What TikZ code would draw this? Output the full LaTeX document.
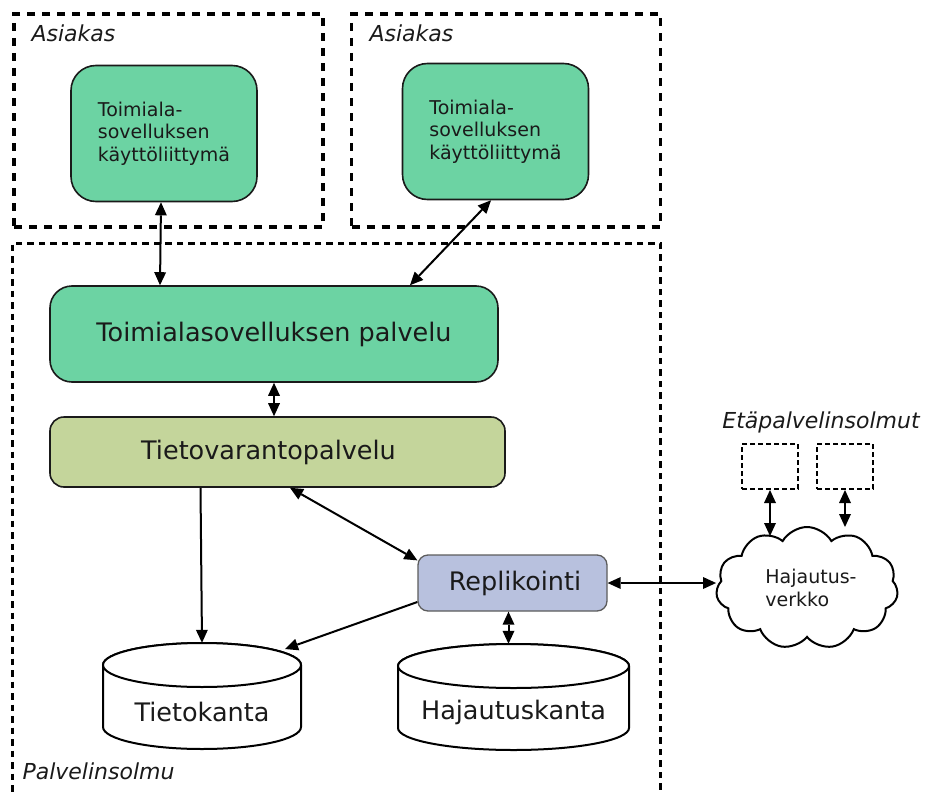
\documentclass[tikz,border=0pt]{standalone}
\usepackage{fontspec}
\setmainfont{DejaVu Sans}
\usetikzlibrary{arrows.meta,shapes.symbols,calc}

\definecolor{uigreen}{HTML}{6CD3A3}
\definecolor{tvgreen}{HTML}{C4D59B}
\definecolor{replav}{HTML}{B8C1DE}
\definecolor{ink}{HTML}{1A1A1A}
\definecolor{repborder}{HTML}{5C5C5C}

\begin{document}
\begin{tikzpicture}[x=1pt,y=-1pt,
  bigfont/.style={font=\fontsize{25.5}{30}\selectfont},
  smallfont/.style={font=\fontsize{19}{22.5}\selectfont},
  zonefont/.style={font=\fontsize{22}{26}\selectfont\itshape, text=ink},
  clientzone/.style={draw, line width=3.5pt, dash pattern=on 8pt off 7pt,
    minimum width=309pt, minimum height=213pt, inner sep=0pt},
  serverzone/.style={draw, line width=3pt, dash pattern=on 6.5pt off 5pt, inner sep=0pt},
  remotenode/.style={draw, line width=2pt, dash pattern=on 5pt off 3pt,
    minimum width=56pt, minimum height=45pt, inner sep=0pt},
  uibox/.style={draw=ink, fill=uigreen, line width=1.6pt, rounded corners=25pt,
    minimum width=186pt, minimum height=136pt, smallfont, align=left, text=ink, inner sep=0pt},
  service/.style={draw=ink, line width=1.6pt, text=ink, inner sep=0pt, bigfont},
  drum/.style={line width=2pt, fill=white},
  drumbox/.style={inner sep=0pt},
  arr/.style={line width=2pt,
    {Triangle[length=13pt,width=12pt,line width=0pt]}-{Triangle[length=13pt,width=12pt,line width=0pt]}},
  arrto/.style={line width=2pt, -{Triangle[length=13pt,width=12pt,line width=0pt]}}
]
\useasboundingbox (0,0) rectangle (926,792);

% client zones
\node[clientzone] (client1) at (168.5,120.5) {};
\node[clientzone] (client2) at (506,120.5) {};
\node[zonefont, anchor=base west] (client1label) at (28,42) {Asiakas};
\node[zonefont, anchor=base west] (client2label) at (366,42) {Asiakas};

% server zone (open towards the bottom)
\node[serverzone, minimum width=648pt, minimum height=600pt] (server) at (336,543) {};
\node[zonefont, anchor=base west] (serverlabel) at (19,779) {Palvelinsolmu};

% user interfaces
\node[uibox] (ui1) at (164,133.5) {Toimiala-\\sovelluksen\\käyttöliittymä};
\node[uibox] (ui2) at (495.5,131.5) {Toimiala-\\sovelluksen\\käyttöliittymä};

% services
\node[service, fill=uigreen, rounded corners=22pt, minimum width=448pt, minimum height=96pt]
  (svc) at (274,334) {Toimialasovelluksen palvelu};
\node[service, fill=tvgreen, rounded corners=14pt, minimum width=455pt, minimum height=70pt]
  (tvp) at (277.5,452) {Tietovarantopalvelu\hspace*{18pt}};
\node[service, draw=repborder, line width=1.3pt, fill=replav, rounded corners=10pt,
  minimum width=189pt, minimum height=56pt] (rep) at (512.5,583) {\hspace*{5pt}Replikointi};

% databases
\draw[drum] (103,665) -- (103,727)
  arc[start angle=180, end angle=360, x radius=99pt, y radius=22pt] -- (301,665)
  arc[start angle=0, end angle=180, x radius=99pt, y radius=22pt] -- cycle;
\draw[drum] (202,665) ellipse[x radius=99pt, y radius=22pt];
\node[drumbox, minimum width=198pt, minimum height=106pt,
  label={[bigfont, text=ink, yshift=-16pt]center:Tietokanta}] (tk) at (202,696) {};

\draw[drum] (398,666) -- (398,728)
  arc[start angle=180, end angle=360, x radius=115.5pt, y radius=22pt] -- (629,666)
  arc[start angle=0, end angle=180, x radius=115.5pt, y radius=22pt] -- cycle;
\draw[drum] (513.5,666) ellipse[x radius=115.5pt, y radius=22pt];
\node[drumbox, minimum width=231pt, minimum height=106pt,
  label={[bigfont, text=ink, yshift=-15pt]center:Hajautuskanta}] (hk) at (513.5,697) {};
\coordinate (tkrim) at (285,649);

% remote nodes and distribution network
\node[zonefont, anchor=base] (remotelabel) at (821,428) {Etäpalvelinsolmut};
\node[remotenode] (en1) at (770,466.5) {};
\node[remotenode] (en2) at (845,466.5) {};
\node[cloud, draw, line width=2pt, cloud puffs=11, cloud puff arc=120, aspect=1.5,
  minimum width=182pt, minimum height=122pt, smallfont, align=left, inner sep=0pt, text=ink]
  (net) at (807,588) {\hspace*{8pt}Hajautus-\\\hspace*{8pt}verkko};

% connectors
\draw[arr] ([xshift=-3pt]ui1.south) -- ([xshift=-4pt]ui1.south |- svc.north);
\draw[arr] ([xshift=-4.5pt]ui2.south) -- ([xshift=136pt]svc.north);
\draw[arr] (svc.south) -- (svc.south |- tvp.north);
\draw[arrto] ([xshift=-77pt]tvp.south) -- (tk.north);
\draw[arr] ([xshift=12.5pt]tvp.south) -- ([yshift=-6pt]rep.north west);
\draw[arrto] ([yshift=-19pt]rep.west) -- (tkrim);
\draw[arr] ([xshift=-4pt]rep.south) -- ([xshift=-4pt]rep.south |- hk.north);
\draw[arr] (rep.east) -- (rep.east -| net.west);
\draw[arr] (en1.south) -- ([yshift=-10pt]en1.south |- net.north);
\draw[arr] (en2.south) -- ([yshift=-1pt]en2.south |- net.north);
\end{tikzpicture}
\end{document}
